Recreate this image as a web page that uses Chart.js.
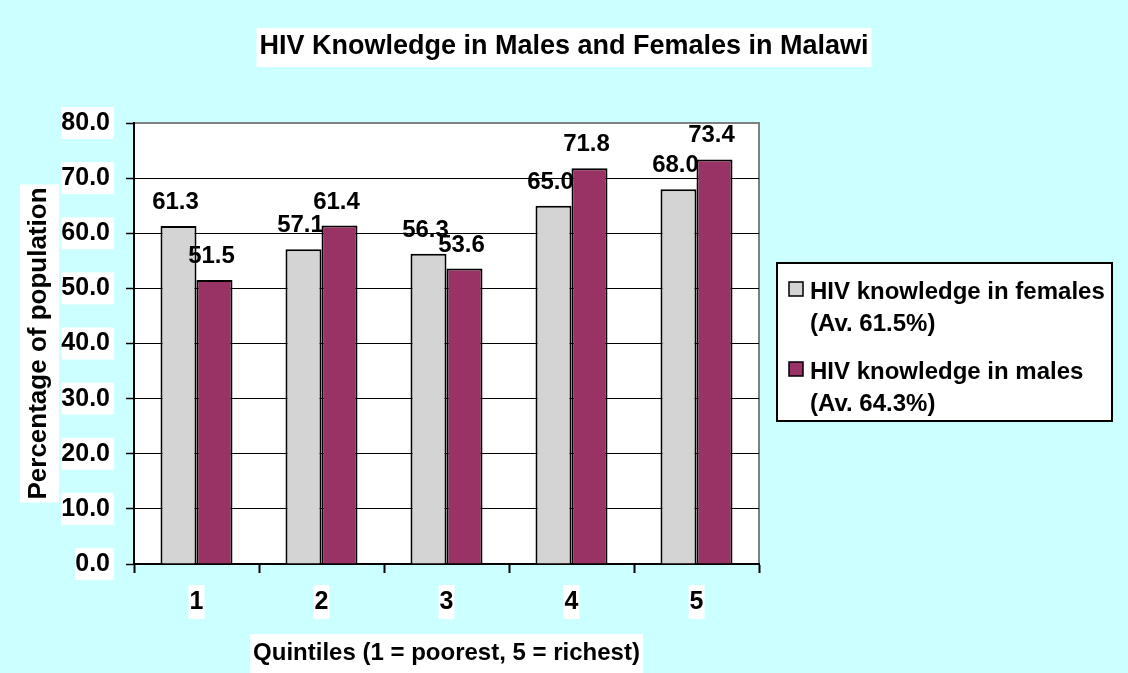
<!DOCTYPE html>
<html>
<head>
<meta charset="utf-8">
<title>HIV Knowledge in Males and Females in Malawi</title>
<script src="https://cdn.jsdelivr.net/npm/chart.js@4.4.1/dist/chart.umd.min.js"></script>
<style>
  html, body { margin: 0; padding: 0; background: #ccffff; }
  canvas { display: block; }
</style>
</head>
<body>
<canvas id="hivChart" width="1128" height="673"></canvas>
<script>
const CHART_TITLE = 'HIV Knowledge in Males and Females in Malawi';
const Y_TITLE = 'Percentage of population';
const X_TITLE = 'Quintiles (1 = poorest, 5 = richest)';

const quintiles = ['1', '2', '3', '4', '5'];
const femaleValues = [61.3, 57.1, 56.3, 65.0, 68.0];
const maleValues = [51.5, 61.4, 53.6, 71.8, 73.4];
const femaleLegend = ['HIV knowledge in females', '(Av. 61.5%)'];
const maleLegend = ['HIV knowledge in males', '(Av. 64.3%)'];
const yMin = 0, yMax = 80, yStep = 10;

const FONT = '"Liberation Sans", Arial, Helvetica, sans-serif';
const BG = '#ccffff';
const GREY = '#d4d4d4';
const MAROON = '#993366';

Chart.defaults.font.family = FONT;
Chart.defaults.color = '#000';

// text with a white box behind it, like the Excel labels
function boxedText(ctx, text, x, y, font, align) {
  ctx.font = font;
  const w = ctx.measureText(text).width;
  const left = align === 'left' ? x : x - w / 2;
  ctx.fillStyle = '#fff';
  ctx.fillRect(left - 3, y - 26, w + 6, 39);
  ctx.fillStyle = '#000';
  ctx.textAlign = 'left';
  ctx.textBaseline = 'alphabetic';
  ctx.fillText(text, left, y);
}

const frame = {
  id: 'frame',
  beforeDraw(chart) {
    const { ctx, chartArea: a } = chart;
    ctx.save();
    ctx.fillStyle = BG;
    ctx.fillRect(0, 0, chart.width, chart.height);
    ctx.fillStyle = '#fff';
    ctx.fillRect(a.left, a.top, a.right - a.left, a.bottom - a.top);
    ctx.strokeStyle = '#808080';
    ctx.lineWidth = 2;
    ctx.beginPath();
    ctx.moveTo(a.left, a.top);
    ctx.lineTo(a.right, a.top);
    ctx.lineTo(a.right, a.bottom);
    ctx.stroke();
    ctx.restore();
  },
  afterDraw(chart) {
    const { ctx, chartArea: a } = chart;
    ctx.save();
    // title
    boxedText(ctx, CHART_TITLE, chart.width / 2, 54, 'bold 27px ' + FONT, 'center');
    // x axis title
    boxedText(ctx, X_TITLE, (a.left + a.right) / 2, 660, 'bold 24px ' + FONT, 'center');
    // y axis title
    ctx.translate(46, (a.top + a.bottom) / 2);
    ctx.rotate(-Math.PI / 2);
    boxedText(ctx, Y_TITLE, 0, 0, 'bold 26px ' + FONT, 'center');
    ctx.restore();

    // legend
    ctx.save();
    ctx.fillStyle = '#fff';
    ctx.fillRect(777, 263, 335, 158);
    ctx.strokeStyle = '#000';
    ctx.lineWidth = 2;
    ctx.strokeRect(777, 263, 335, 158);
    const entries = [
      { lines: femaleLegend, color: GREY, y: 299 },
      { lines: maleLegend, color: MAROON, y: 379 }
    ];
    ctx.font = 'bold 24px ' + FONT;
    ctx.textAlign = 'left';
    ctx.textBaseline = 'alphabetic';
    entries.forEach(e => {
      ctx.fillStyle = e.color;
      ctx.fillRect(789, e.y - 17, 14, 14);
      ctx.lineWidth = 1.5;
      ctx.strokeStyle = '#000';
      ctx.strokeRect(789, e.y - 17, 14, 14);
      ctx.fillStyle = '#000';
      ctx.fillText(e.lines[0], 810, e.y);
      ctx.fillText(e.lines[1], 810, e.y + 32);
    });
    ctx.restore();
  },
  afterDatasetsDraw(chart) {
    const { ctx } = chart;
    ctx.save();
    ctx.font = 'bold 24px ' + FONT;
    ctx.fillStyle = '#000';
    ctx.textAlign = 'center';
    ctx.textBaseline = 'alphabetic';
    chart.data.datasets.forEach((ds, i) => {
      chart.getDatasetMeta(i).data.forEach((bar, j) => {
        ctx.fillText(ds.data[j].toFixed(1), bar.x - 3, bar.y - 17);
      });
    });
    ctx.restore();
  }
};

new Chart(document.getElementById('hivChart'), {
  type: 'bar',
  data: {
    labels: quintiles,
    datasets: [
      {
        label: femaleLegend.join(' '),
        data: femaleValues,
        backgroundColor: GREY,
        borderColor: '#000',
        borderWidth: 2,
        categoryPercentage: 0.576,
        barPercentage: 1.0
      },
      {
        label: maleLegend.join(' '),
        data: maleValues,
        backgroundColor: MAROON,
        borderColor: '#000',
        borderWidth: 2,
        categoryPercentage: 0.576,
        barPercentage: 1.0
      }
    ]
  },
  options: {
    responsive: false,
    animation: false,
    devicePixelRatio: 1,
    layout: { padding: { top: 123, right: 369, bottom: 0, left: 0 } },
    plugins: {
      legend: { display: false },
      title: { display: false },
      tooltip: { enabled: false }
    },
    scales: {
      x: {
        afterFit: s => { s.height = 109; },
        border: { color: '#000', width: 2 },
        grid: { drawOnChartArea: false, drawTicks: true, tickLength: 9, tickWidth: 2, tickColor: '#000', offset: true },
        ticks: {
          font: { size: 25, weight: 'bold' },
          padding: 14,
          showLabelBackdrop: true,
          backdropColor: '#fff',
          backdropPadding: { left: 1, right: 1, top: 2, bottom: 2 }
        }
      },
      y: {
        min: yMin,
        max: yMax,
        afterFit: s => { s.width = 134; },
        border: { color: '#000', width: 2 },
        grid: {
          color: c => (c.tick && c.tick.value === yMax ? '#808080' : '#000'),
          lineWidth: 1,
          tickLength: 8,
          tickWidth: 1.5,
          tickColor: '#000'
        },
        ticks: {
          stepSize: yStep,
          font: { size: 25, weight: 'bold' },
          padding: 16,
          callback: v => Number(v).toFixed(1),
          showLabelBackdrop: true,
          backdropColor: '#fff',
          backdropPadding: { left: 0, right: 4, top: 1, bottom: 1 }
        }
      }
    }
  },
  plugins: [frame]
});
</script>
</body>
</html>
